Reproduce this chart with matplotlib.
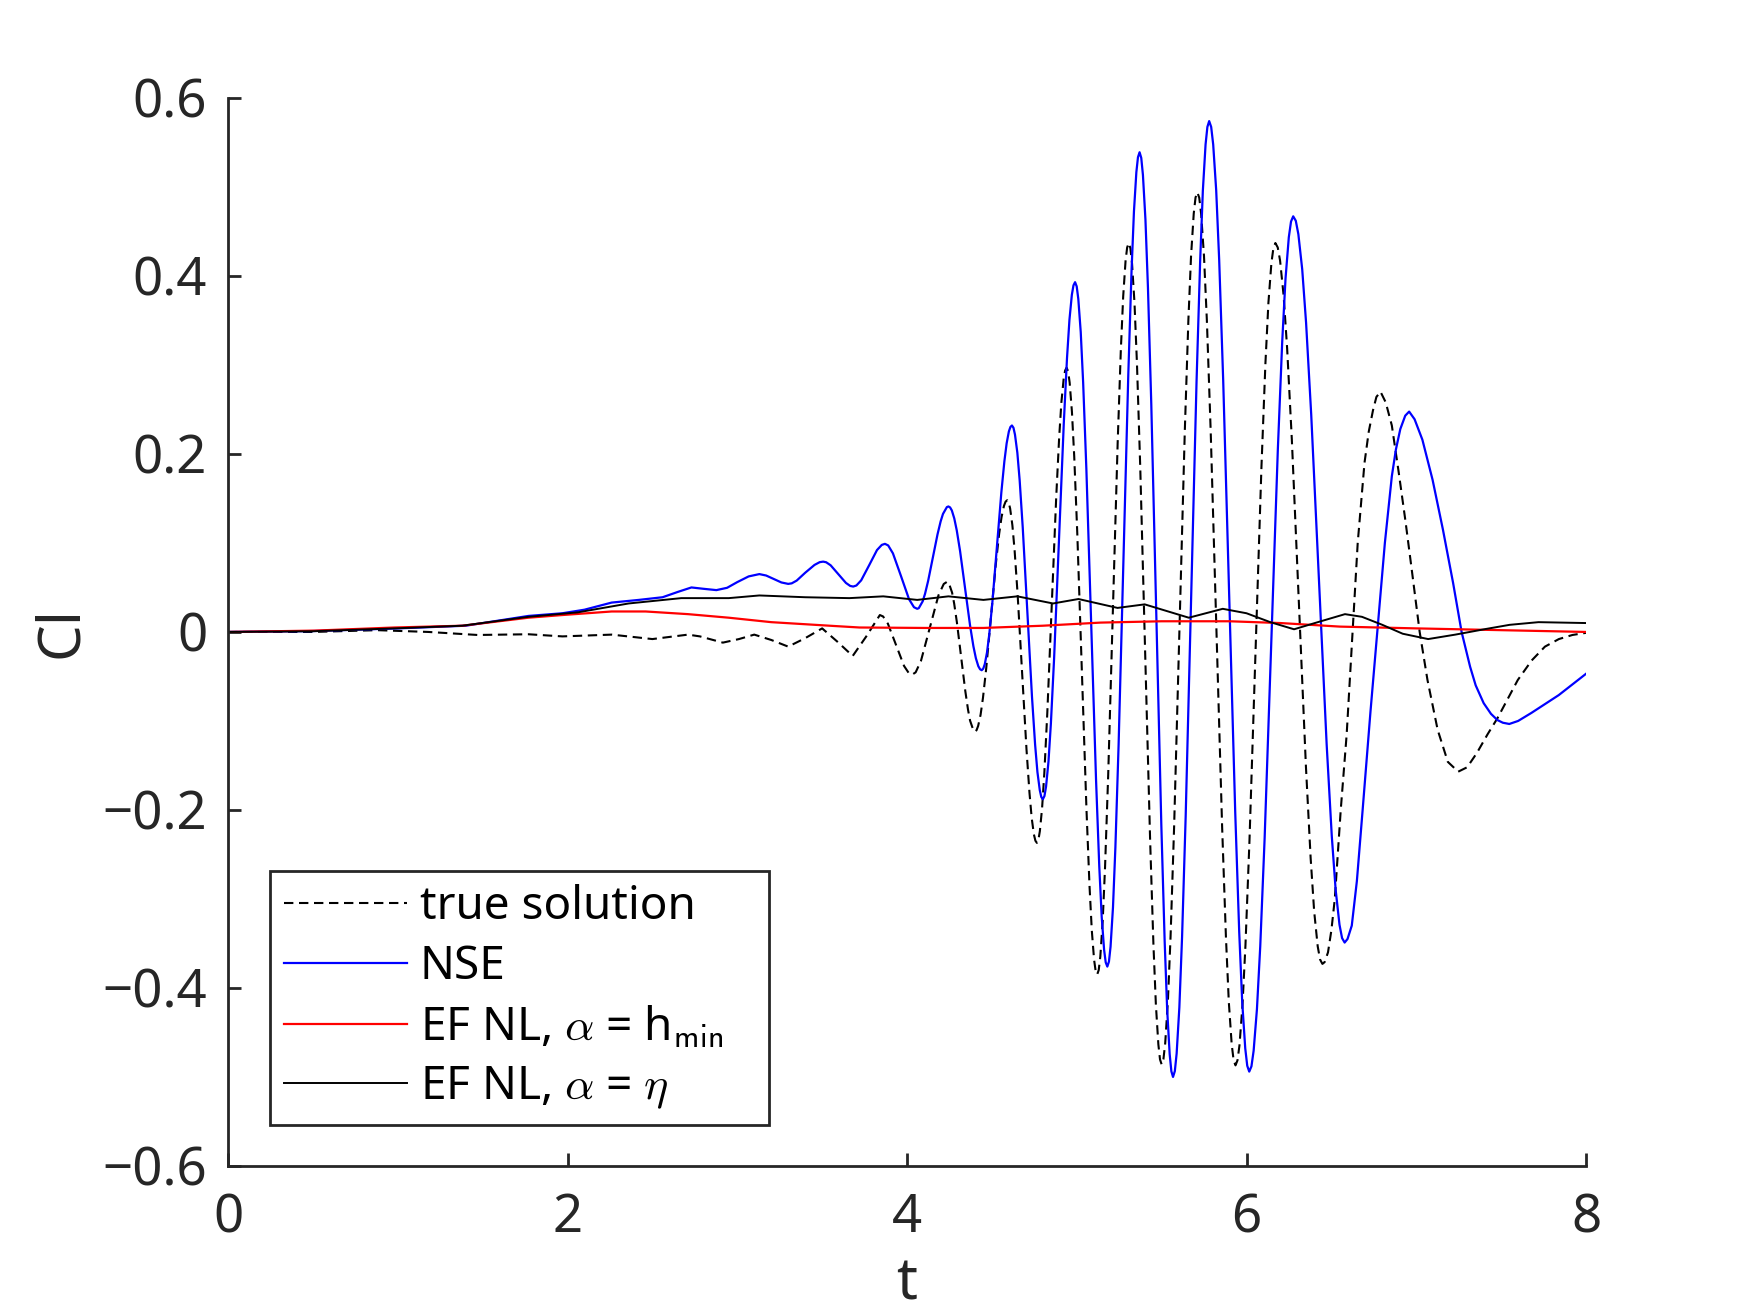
import matplotlib
matplotlib.use("Agg")
import matplotlib.pyplot as plt

plt.rcParams['font.family'] = ['Noto Sans', 'DejaVu Sans']
plt.rcParams['mathtext.fontset'] = 'cm'

# ---------------- data ----------------
t_true = [0, 0.5, 0.88, 1.18, 1.47, 1.77, 1.97, 2.26, 2.5, 2.71, 2.78, 2.915, 3.01, 3.10, 3.20, 3.30,
          3.40, 3.50, 3.59, 3.68, 3.76, 3.84, 3.859, 3.8875, 3.935, 3.9825, 4.011, 4.03,
          4.0507, 4.0818, 4.1335, 4.1853, 4.2163, 4.237,
          4.2452, 4.2655, 4.2778, 4.294, 4.3185, 4.343, 4.3593, 4.3715, 4.3919, 4.40,
          4.4095, 4.419, 4.4333, 4.4475, 4.4665, 4.495, 4.5235, 4.5425, 4.5568, 4.571, 4.5805, 4.59,
          4.5988, 4.6075, 4.6206, 4.6338, 4.6513, 4.6775, 4.7038, 4.7213, 4.7344, 4.7475, 4.7563, 4.765,
          4.7738, 4.7825, 4.7956, 4.8088, 4.8263, 4.8525, 4.8788, 4.8963, 4.9094, 4.9225, 4.9313, 4.94,
          4.949, 4.958, 4.9715, 4.985, 5.003, 5.03, 5.057, 5.075, 5.0885, 5.102, 5.111, 5.12,
          5.1293, 5.1386, 5.1526, 5.1665, 5.1851, 5.213, 5.2409, 5.2595, 5.2735, 5.2874, 5.2967, 5.306,
          5.3157, 5.3254, 5.34, 5.3545, 5.3739, 5.403, 5.4321, 5.4515, 5.466, 5.4806, 5.4903, 5.50,
          5.5105, 5.521, 5.5368, 5.5525, 5.5735, 5.605, 5.6365, 5.6575, 5.6733, 5.689, 5.6995, 5.71,
          5.7213, 5.7325, 5.7494, 5.7663, 5.7888, 5.8225, 5.8563, 5.8788, 5.8956, 5.9125, 5.9238, 5.935,
          5.9468, 5.9585, 5.9761, 5.9938, 6.0173, 6.0525, 6.0878, 6.1113, 6.1289, 6.1465, 6.1583, 6.17,
          6.1839, 6.1977, 6.2185, 6.2393, 6.267, 6.3085, 6.3501, 6.3778, 6.3985, 6.4193, 6.4332, 6.447,
          6.46, 6.48, 6.50, 6.52, 6.555, 6.59, 6.625, 6.655, 6.695, 6.72, 6.745, 6.765, 6.789,
          6.82, 6.856, 6.896, 6.936, 6.976, 7.02, 7.066, 7.126, 7.186, 7.247,
          7.30, 7.357, 7.42, 7.478, 7.598, 7.68, 7.758, 7.84, 7.92, 8.0]
cl_true = [0, 0.0, 0.002, 0.0, -0.0034, -0.0026, -0.005, -0.003, -0.008, -0.003, -0.005, -0.012, -0.008,
           -0.003, -0.009, -0.0165, -0.007, 0.004, -0.011, -0.027, -0.005, 0.019, 0.0174, 0.0092, -0.0145,
           -0.0382, -0.0464, -0.048,
           -0.0454, -0.0327, 0.0043, 0.0412, 0.0539, 0.0565,
           0.0555, 0.0442, 0.0318, 0.0105, -0.0278, -0.066, -0.0873, -0.0997, -0.111, -0.112,
           -0.1104, -0.1056, -0.0931, -0.0739, -0.041, 0.018, 0.077, 0.1099, 0.1291, 0.1416, 0.1464, 0.148,
           0.1456, 0.1386, 0.12, 0.0916, 0.0429, -0.0445, -0.1319, -0.1806, -0.209, -0.2276, -0.2346, -0.237,
           -0.2337, -0.2239, -0.1981, -0.1588, -0.0912, 0.03, 0.1512, 0.2188, 0.2581, 0.2839, 0.2937, 0.297,
           0.2928, 0.2803, 0.2473, 0.1972, 0.1108, -0.044, -0.1988, -0.2852, -0.3353, -0.3683, -0.3808, -0.385,
           -0.3799, -0.3649, -0.3252, -0.2647, -0.1606, 0.026, 0.2126, 0.3167, 0.3772, 0.4169, 0.4319, 0.437,
           0.4313, 0.4144, 0.3698, 0.3019, 0.185, -0.0245, -0.234, -0.3509, -0.4188, -0.4634, -0.4803, -0.486,
           -0.48, -0.462, -0.4147, -0.3425, -0.2185, 0.004, 0.2265, 0.3505, 0.4227, 0.47, 0.488, 0.494,
           0.488, 0.47, 0.4226, 0.3504, 0.2262, 0.0035, -0.2192, -0.3434, -0.4156, -0.463, -0.481, -0.487,
           -0.4813, -0.4644, -0.4197, -0.3517, -0.2348, -0.025, 0.1847, 0.3017, 0.3697, 0.4144, 0.4313, 0.437,
           0.432, 0.4172, 0.378, 0.3184, 0.2159, 0.032, -0.1519, -0.2544, -0.314, -0.3532, -0.368, -0.373,
           -0.371, -0.36, -0.335, -0.30, -0.20, -0.115, 0.0, 0.10, 0.19, 0.225, 0.249, 0.264, 0.270,
           0.258, 0.232, 0.18, 0.125, 0.066, 0.0, -0.054, -0.110, -0.146, -0.157,
           -0.152, -0.136, -0.115, -0.097, -0.054, -0.032, -0.0165, -0.008, -0.0034, -0.001]

t_nse = [0, 0.5, 1.0, 1.4, 1.77, 1.97, 2.1, 2.26, 2.42, 2.56, 2.65, 2.73, 2.80, 2.877,
         2.94, 3.00, 3.067, 3.13, 3.17, 3.215, 3.26, 3.30, 3.3206, 3.35, 3.40, 3.455, 3.4854, 3.506,
         3.5237, 3.55, 3.595, 3.64, 3.6653, 3.683, 3.7017, 3.73, 3.777, 3.823, 3.8513, 3.87,
         3.889, 3.917, 3.965, 4.012, 4.041, 4.06,
         4.0692, 4.0922, 4.106, 4.1244, 4.152, 4.1796, 4.198, 4.2118, 4.2348, 4.244,
         4.2538, 4.264, 4.2783, 4.293, 4.3126, 4.342, 4.3714, 4.391, 4.4057, 4.420, 4.4302, 4.44,
         4.4489, 4.458, 4.4712, 4.4845, 4.5023, 4.529, 4.5557, 4.5735, 4.5869, 4.600, 4.6091, 4.618,
         4.6271, 4.636, 4.6499, 4.6635, 4.6817, 4.709, 4.7363, 4.7545, 4.7682, 4.782, 4.7909, 4.80,
         4.8095, 4.819, 4.8333, 4.8475, 4.8665, 4.895, 4.9235, 4.9425, 4.9568, 4.971, 4.9805, 4.99,
         4.9995, 5.009, 5.0233, 5.0375, 5.0565, 5.085, 5.1135, 5.1325, 5.1468, 5.161, 5.1705, 5.18,
         5.1895, 5.199, 5.2133, 5.2275, 5.2465, 5.275, 5.3035, 5.3225, 5.3368, 5.351, 5.3605, 5.37,
         5.3799, 5.3897, 5.4045, 5.4193, 5.439, 5.4685, 5.498, 5.5178, 5.5325, 5.5473, 5.5572, 5.567,
         5.5777, 5.5883, 5.6043, 5.6203, 5.6416, 5.6735, 5.7055, 5.7268, 5.7427, 5.7587, 5.7694, 5.78,
         5.7918, 5.8036, 5.8213, 5.839, 5.8626, 5.898, 5.9334, 5.957, 5.9747, 5.9924, 6.0042, 6.016,
         6.029, 6.0419, 6.0613, 6.0808, 6.1067, 6.1455, 6.1844, 6.2103, 6.2297, 6.2491, 6.2621, 6.275,
         6.2902, 6.3053, 6.328, 6.3508, 6.3811, 6.4265, 6.472, 6.5023, 6.525, 6.5477, 6.5629, 6.578,
         6.595, 6.62, 6.65, 6.684, 6.73, 6.775, 6.815, 6.856, 6.88, 6.906, 6.935, 6.958,
         6.99, 7.036, 7.096, 7.157, 7.217, 7.267, 7.317, 7.35, 7.397, 7.44, 7.478, 7.51, 7.548,
         7.60, 7.678, 7.839, 8.0]
cl_nse = [0, 0.001, 0.004, 0.007, 0.018, 0.021, 0.025, 0.033, 0.036, 0.039, 0.045, 0.050, 0.0485, 0.047,
          0.0496, 0.056, 0.0624, 0.065, 0.0634, 0.0595, 0.0556, 0.054, 0.0546, 0.0577, 0.0665, 0.0753,
          0.0784, 0.079,
          0.0783, 0.0749, 0.065, 0.0551, 0.0517, 0.051, 0.0522, 0.058, 0.075, 0.092, 0.0978, 0.099,
          0.0972, 0.0883, 0.0625, 0.0367, 0.0278, 0.026,
          0.0267, 0.0344, 0.0428, 0.0574, 0.0835, 0.1096, 0.1242, 0.1326, 0.1403, 0.141,
          0.1399, 0.1365, 0.1276, 0.1141, 0.0908, 0.049, 0.0072, -0.0161, -0.0296, -0.0385, -0.0419, -0.043,
          -0.0413, -0.0363, -0.023, -0.0027, 0.0321, 0.0945, 0.1569, 0.1917, 0.212, 0.2253, 0.2303, 0.232,
          0.2294, 0.2217, 0.2014, 0.1705, 0.1173, 0.022, -0.0733, -0.1265, -0.1574, -0.1777, -0.1854, -0.188,
          -0.1844, -0.1738, -0.1457, -0.1029, -0.0294, 0.1025, 0.2344, 0.3079, 0.3507, 0.3788, 0.3894, 0.393,
          0.3883, 0.3742, 0.337, 0.2804, 0.1831, 0.0085, -0.1661, -0.2634, -0.32, -0.3572, -0.3713, -0.376,
          -0.3704, -0.3536, -0.3094, -0.242, -0.1262, 0.0815, 0.2892, 0.405, 0.4724, 0.5166, 0.5334, 0.539,
          0.5326, 0.5135, 0.4634, 0.3869, 0.2554, 0.0195, -0.2164, -0.3479, -0.4244, -0.4745, -0.4936, -0.50,
          -0.4934, -0.4737, -0.4218, -0.3428, -0.2068, 0.037, 0.2808, 0.4168, 0.4958, 0.5477, 0.5674, 0.574,
          0.5674, 0.5478, 0.4963, 0.4176, 0.2824, 0.04, -0.2024, -0.3376, -0.4163, -0.4678, -0.4874, -0.494,
          -0.4881, -0.4705, -0.424, -0.3533, -0.2317, -0.0135, 0.2047, 0.3263, 0.397, 0.4435, 0.4611, 0.467,
          0.462, 0.447, 0.4076, 0.3475, 0.2442, 0.059, -0.1262, -0.2295, -0.2896, -0.329, -0.344, -0.349,
          -0.345, -0.33, -0.28, -0.20, -0.09, 0.01, 0.10, 0.175, 0.205, 0.228, 0.243, 0.2476,
          0.239, 0.216, 0.171, 0.115, 0.055, 0.0, -0.039, -0.060, -0.080, -0.092, -0.099, -0.102, -0.1034,
          -0.100, -0.091, -0.071, -0.047]

t_hmin = [0, 0.51, 0.98, 1.38, 1.77, 1.97, 2.26, 2.46, 2.71, 2.95, 3.2, 3.57, 3.72, 4.1, 4.45,
          4.8, 5.14, 5.5, 5.9, 6.2, 6.55, 7.0, 7.5, 8.0]
cl_hmin = [0, 0.0015, 0.005, 0.007, 0.016, 0.019, 0.023, 0.023, 0.020, 0.016, 0.011, 0.0067, 0.005,
           0.0045, 0.0045, 0.007, 0.0105, 0.012, 0.012, 0.010, 0.006, 0.004, 0.002, 0.0]

t_eta = [0, 0.5, 0.98, 1.38, 1.77, 2.06, 2.36, 2.67, 2.95, 3.13, 3.40, 3.66, 3.86, 4.06, 4.244,
         4.45, 4.65, 4.86, 5.01, 5.24, 5.40, 5.66, 5.86, 6.0, 6.14, 6.28, 6.42, 6.58, 6.68, 6.8,
         6.92, 7.07, 7.23, 7.4, 7.55, 7.72, 8.0]
cl_eta = [0, 0.0008, 0.004, 0.007, 0.017, 0.022, 0.032, 0.038, 0.038, 0.041, 0.039, 0.038, 0.040,
          0.036, 0.040, 0.036, 0.040, 0.032, 0.037, 0.027, 0.031, 0.016, 0.026, 0.021, 0.011, 0.003,
          0.011, 0.020, 0.017, 0.008, -0.002, -0.008, -0.003, 0.003, 0.008, 0.011, 0.010]

x_ticks = [0, 2, 4, 6, 8]
x_tick_labels = ['0', '2', '4', '6', '8']
y_ticks = [-0.6, -0.4, -0.2, 0, 0.2, 0.4, 0.6]
y_tick_labels = ['\u22120.6', '\u22120.4', '\u22120.2', '0', '0.2', '0.4', '0.6']

labels = ['true solution', 'NSE',
          'EF NL, $\\alpha$ = h$_{\\mathsf{min}}\\mathsf{\\ \\ }$\u00a0',
          'EF NL, $\\alpha$ = $\\eta$']

# ---------------- figure ----------------
ink = '#262626'
fig = plt.figure(figsize=(17.5, 13.13), dpi=100)
ax = fig.add_axes([0.1303, 0.1120, 0.7760, 0.8134])

ax.plot(t_true, cl_true, color='black', lw=1.5, linestyle=(0, (4.5, 2.7)), label=labels[0])
ax.plot(t_nse, cl_nse, color=(0, 0, 1), lw=1.6, label=labels[1])
ax.plot(t_hmin, cl_hmin, color=(1, 0, 0), lw=1.6, label=labels[2])
ax.plot(t_eta, cl_eta, color='black', lw=1.4, label=labels[3])

ax.set_xlim(0, 8)
ax.set_ylim(-0.6, 0.6)
ax.set_xticks(x_ticks)
ax.set_xticklabels(x_tick_labels)
ax.set_yticks(y_ticks)
ax.set_yticklabels(y_tick_labels)

for s in ['top', 'right']:
    ax.spines[s].set_visible(False)
for s in ['left', 'bottom']:
    ax.spines[s].set_linewidth(2.0)
    ax.spines[s].set_color(ink)

ax.tick_params(direction='in', length=9.7, width=2.0, labelsize=38, colors=ink)
ax.tick_params(axis='x', pad=19)
ax.tick_params(axis='y', pad=15)

ax.set_xlabel('t', fontsize=42, color=ink, labelpad=6.5)
ax.set_ylabel('Cl', fontsize=42, color=ink, labelpad=8)

leg = ax.legend(loc='lower left', bbox_to_anchor=(0.0309, 0.0384), borderaxespad=0,
                fontsize=33, handlelength=2.69, handletextpad=0.28, borderpad=0.3,
                labelspacing=0.3, fancybox=False, framealpha=1, edgecolor=ink)
leg.get_frame().set_linewidth(2.0)
for txt in leg.get_texts():
    txt.set_color('black')

fig.savefig('out.png', dpi=100)
